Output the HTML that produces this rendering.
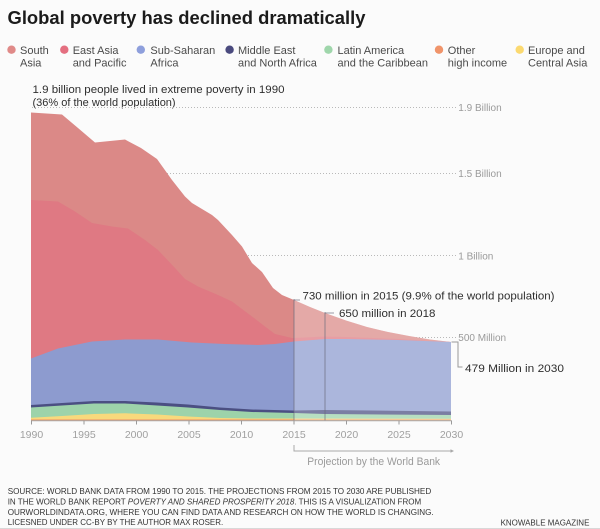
<!DOCTYPE html>
<html>
<head>
<meta charset="utf-8">
<style>
  html,body{margin:0;padding:0;background:#fbfbfb;}
  body{width:600px;height:529px;overflow:hidden;}
  svg{display:block;font-family:"Liberation Sans",Arial,sans-serif;}
</style>
</head>
<body>
<svg width="600" height="529" viewBox="0 0 600 529" xmlns="http://www.w3.org/2000/svg">
  <rect x="0" y="0" width="600" height="529" fill="#fbfbfb"/>

  <!-- Title -->
  <text x="7.5" y="24" font-size="18.5" font-weight="bold" fill="#1b1b1b" textLength="358" lengthAdjust="spacingAndGlyphs">Global poverty has declined dramatically</text>

  <!-- Legend -->
  <g font-size="11" fill="#4a4a4a">
    <circle cx="11.5" cy="49.7" r="4.2" fill="#e08a88"/>
    <text x="20" y="53.8">South</text><text x="20" y="66.3">Asia</text>

    <circle cx="64.3" cy="49.7" r="4.2" fill="#e46f80"/>
    <text x="72.7" y="53.8">East Asia</text><text x="72.7" y="66.3">and Pacific</text>

    <circle cx="140.8" cy="49.7" r="4.2" fill="#8e9fdc"/>
    <text x="150.4" y="53.8">Sub-Saharan</text><text x="150.4" y="66.3">Africa</text>

    <circle cx="229.6" cy="49.7" r="4.2" fill="#4a4a7e"/>
    <text x="238" y="53.8">Middle East</text><text x="238" y="66.3">and North Africa</text>

    <circle cx="328.4" cy="49.7" r="4.2" fill="#9fd6ab"/>
    <text x="337.5" y="53.8">Latin America</text><text x="337.5" y="66.3">and the Caribbean</text>

    <circle cx="439" cy="49.7" r="4.2" fill="#f0946a"/>
    <text x="447.8" y="53.8">Other</text><text x="447.8" y="66.3">high income</text>

    <circle cx="519.7" cy="49.7" r="4.2" fill="#fbd970"/>
    <text x="528" y="53.8">Europe and</text><text x="528" y="66.3">Central Asia</text>
  </g>

  <!-- Annotation top -->
  <g font-size="11" fill="#2e2e2e">
    <text x="32.5" y="93" textLength="252" lengthAdjust="spacingAndGlyphs">1.9 billion people lived in extreme poverty in 1990</text>
    <text x="32.5" y="106">(36% of the world population)</text>
  </g>

  <!-- Gridlines -->
  <g stroke="#b9b9b9" stroke-width="1" stroke-dasharray="1,2" fill="none">
    <line x1="32" y1="107.5" x2="456" y2="107.5"/>
    <line x1="32" y1="173.5" x2="456" y2="173.5"/>
    <line x1="32" y1="255.5" x2="456" y2="255.5"/>
    <line x1="32" y1="337.5" x2="456" y2="337.5"/>
  </g>
  <g font-size="10" fill="#9a9a9a">
    <text x="458.3" y="111">1.9 Billion</text>
    <text x="458.3" y="177">1.5 Billion</text>
    <text x="458.3" y="259.5">1 Billion</text>
    <text x="458.3" y="341">500 Million</text>
  </g>

  <!-- Areas -->
  <!-- South Asia -->
  <polygon fill="#db8987" points="31,112.5 62,114.5 78,128 95,142.5 125,139.5 141,148 157,159 172,180 185,196.5 192,203 212,215 218,220 232,235 242,246.5 252,263 262,272 273,288 282,295 294,300 310,307 325,313 346,320.5 367,327 388,332 409,336 430,339.5 451,342 451,420.5 31,420.5"/>
  <!-- East Asia -->
  <polygon fill="#df7983" points="31,200 58,201.5 75,211.5 92,223 112,226.5 128,228.5 145,240 158,250 175,268 185,279 198,286.5 218,295 232,301.5 252,316.5 265,326.5 275,334 292,338 294,338 325,336.5 346,337 398,339 451,342 451,420.5 31,420.5"/>
  <!-- Sub-Saharan Africa -->
  <polygon fill="#8d9bcf" points="31,358.5 58,348.5 92,341.5 125,339.5 158,339.5 192,342.5 225,344 258,345 275,344 294,341.5 325,339 346,339 398,340 451,342 451,420.5 31,420.5"/>
  <!-- Middle East & North Africa -->
  <polygon fill="#4b4f82" points="31,405 62,403 94,401 125,401 157,402.5 188,404.5 220,407.5 252,409.5 294,410.5 325,410 451,411.5 451,420.5 31,420.5"/>
  <!-- Latin America -->
  <polygon fill="#9dd3aa" points="31,407.5 62,405.5 94,403.5 125,403.5 157,405.5 188,407.5 220,410 252,412 294,413 325,414 451,415 451,420.5 31,420.5"/>
  <!-- Europe & Central Asia -->
  <polygon fill="#f8d97c" points="31,417.7 62,416 94,414 125,413.3 157,414.5 188,416.5 220,418 252,418.5 294,418.5 451,418.8 451,420.5 31,420.5"/>
  <!-- Other high income -->
  <rect x="31" y="419.4" width="420" height="1.2" fill="#ef9b6b"/>

  <!-- Projection lightening overlay -->
  <polygon fill="#ffffff" fill-opacity="0.27" points="294,300 310,307 325,313 346,320.5 367,327 388,332 409,336 430,339.5 451,342 451,420.5 294,420.5"/>

  <!-- Vertical marker lines -->
  <g stroke="#6a6a7a" stroke-width="0.9" stroke-opacity="0.75">
    <line x1="294" y1="299" x2="294" y2="420.5"/>
    <line x1="325" y1="312" x2="325" y2="420.5"/>
    <line x1="294" y1="300" x2="300" y2="300"/>
    <line x1="325" y1="313" x2="334" y2="313"/>
  </g>

  <!-- Annotations right -->
  <g font-size="11" fill="#2e2e2e">
    <text x="302.5" y="299.5" textLength="252" lengthAdjust="spacingAndGlyphs">730 million in 2015 (9.9% of the world population)</text>
    <text x="339" y="317" textLength="96.5" lengthAdjust="spacingAndGlyphs">650 million in 2018</text>
    <text x="465" y="372" textLength="99" lengthAdjust="spacingAndGlyphs">479 Million in 2030</text>
  </g>
  <polyline points="451.5,342 458,342 458,367 462.5,367" fill="none" stroke="#9a9a9a" stroke-width="1"/>

  <!-- X Axis -->
  <line x1="31" y1="420.8" x2="451.5" y2="420.8" stroke="#a8a8a8" stroke-width="1"/>
  <g stroke="#9a9a9a" stroke-width="1">
    <line x1="31.5" y1="420.5" x2="31.5" y2="424.5"/>
    <line x1="84" y1="420.5" x2="84" y2="424.5"/>
    <line x1="136.5" y1="420.5" x2="136.5" y2="424.5"/>
    <line x1="189" y1="420.5" x2="189" y2="424.5"/>
    <line x1="241.5" y1="420.5" x2="241.5" y2="424.5"/>
    <line x1="294" y1="420.5" x2="294" y2="424.5"/>
    <line x1="346.5" y1="420.5" x2="346.5" y2="424.5"/>
    <line x1="399" y1="420.5" x2="399" y2="424.5"/>
    <line x1="451.5" y1="420.5" x2="451.5" y2="424.5"/>
  </g>
  <g font-size="10.5" fill="#a0a0a0" text-anchor="middle">
    <text x="31.5" y="438">1990</text>
    <text x="84" y="438">1995</text>
    <text x="136.5" y="438">2000</text>
    <text x="189" y="438">2005</text>
    <text x="241.5" y="438">2010</text>
    <text x="294" y="438">2015</text>
    <text x="346.5" y="438">2020</text>
    <text x="399" y="438">2025</text>
    <text x="451.5" y="438">2030</text>
  </g>

  <!-- Projection bracket -->
  <polyline points="294,445 294,451 452,451" fill="none" stroke="#a8a8a8" stroke-width="1"/>
  <polygon points="454,451 450.5,449.3 450.5,452.7" fill="#a8a8a8"/>
  <text x="307.3" y="465" font-size="11" fill="#9a9a9a" textLength="132.8" lengthAdjust="spacingAndGlyphs">Projection by the World Bank</text>

  <!-- Source -->
  <g font-size="8.4" fill="#333">
    <text x="7.7" y="494.2" textLength="423.5" lengthAdjust="spacingAndGlyphs">SOURCE: WORLD BANK DATA FROM 1990 TO 2015. THE PROJECTIONS FROM 2015 TO 2030 ARE PUBLISHED</text>
    <text x="7.7" y="504.6" textLength="413.5" lengthAdjust="spacingAndGlyphs">IN THE WORLD BANK REPORT <tspan font-style="italic">POVERTY AND SHARED PROSPERITY 2018</tspan>. THIS IS A VISUALIZATION FROM</text>
    <text x="7.7" y="514.8" textLength="426" lengthAdjust="spacingAndGlyphs">OURWORLDINDATA.ORG, WHERE YOU CAN FIND DATA AND RESEARCH ON HOW THE WORLD IS CHANGING.</text>
    <text x="7.7" y="525" textLength="215.5" lengthAdjust="spacingAndGlyphs">LICESNED UNDER CC-BY BY THE AUTHOR MAX ROSER.</text>
    <text x="500.6" y="525.3" textLength="88.8" lengthAdjust="spacingAndGlyphs">KNOWABLE MAGAZINE</text>
  </g>
  <rect x="0" y="528" width="600" height="1" fill="#d8d8d8"/>
</svg>
</body>
</html>
